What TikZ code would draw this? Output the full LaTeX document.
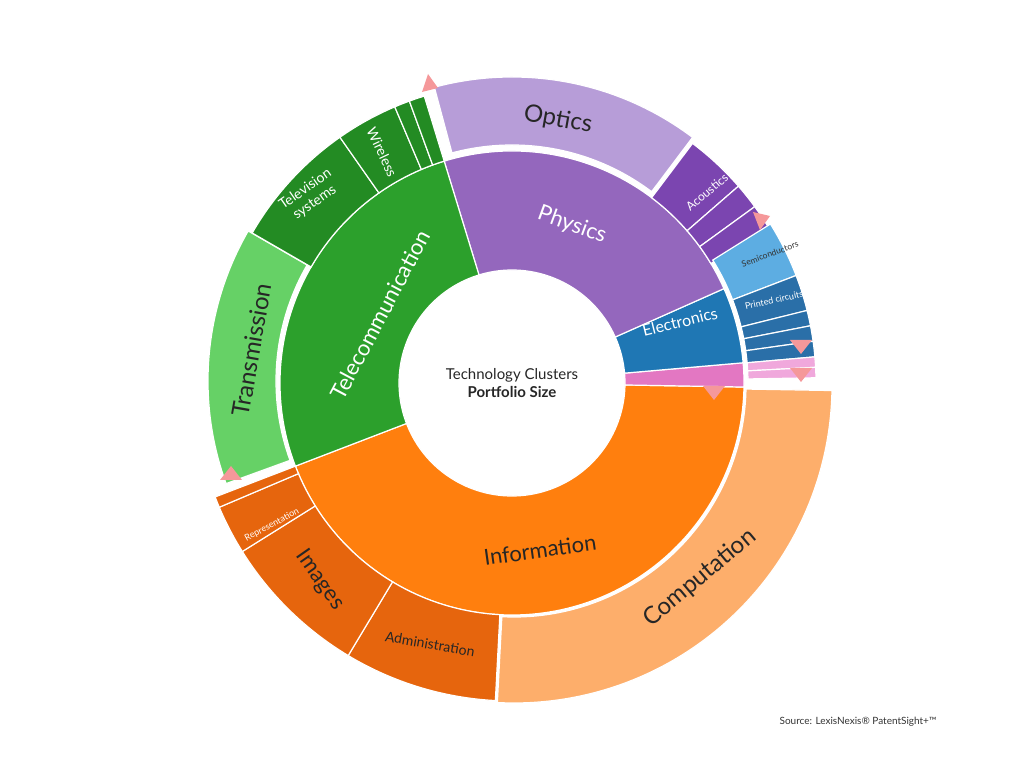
\documentclass[tikz,border=0pt]{standalone}
\usepackage{fontspec}
\setmainfont{Lato}
\begin{document}
\begin{tikzpicture}[x=1pt,y=1pt,
  seg/.style={draw=white,line width=1.2pt},
  lbl/.style={font=\fontsize{20}{22}\selectfont,text=black!85},
  wl/.style={font=\fontsize{15}{17}\selectfont,text=white},
  sl/.style={font=\fontsize{10}{11}\selectfont,text=white},
  mk/.style={fill=mkc,draw=none}]
\definecolor{info}{HTML}{FF7F0E}\definecolor{comp}{HTML}{FDAE6B}\definecolor{iodk}{HTML}{E6650D}
\definecolor{tele}{HTML}{2CA02C}\definecolor{trans}{HTML}{66D166}\definecolor{tgdk}{HTML}{238B23}
\definecolor{phys}{HTML}{9467BD}\definecolor{opt}{HTML}{B79DD8}\definecolor{acou}{HTML}{7B45B0}
\definecolor{elec}{HTML}{1F77B4}\definecolor{semi}{HTML}{5DADE2}\definecolor{pcb}{HTML}{2A6FA8}
\definecolor{pnk}{HTML}{E377C2}\definecolor{pnkl}{HTML}{F0A8DC}\definecolor{mkc}{HTML}{F5989A}
\useasboundingbox (0,0) rectangle (1024,768);
\newcommand{\sg}[5]{\fill[#5,seg] (#3:#1) arc[start angle=#3,end angle=#4,radius=#1] -- (#4:#2) arc[start angle=#4,end angle=#3,radius=#2] -- cycle;}
\begin{scope}[shift={(512,385)}]
\sg{113}{232}{-159}{-1}{info}
\sg{113}{232}{-1}{5}{pnk}
\sg{113}{232}{5}{24}{elec}
\sg{113}{232}{24}{107}{phys}
\sg{113}{232}{107}{201}{tele}
\begin{scope}[shift={(2,-2)}]\sg{232}{318}{-93}{-1}{comp}\end{scope}
\sg{232}{318}{-121}{-93}{iodk}
\sg{232}{318}{-148}{-121}{iodk}
\sg{232}{318}{-157}{-148}{iodk}
\sg{232}{318}{-159}{-157}{iodk}
\begin{scope}[shift={(-4,2)}]\sg{232}{300}{150}{200}{trans}\end{scope}
\sg{232}{300}{125}{150}{tgdk}
\sg{232}{300}{113}{125}{tgdk}
\sg{232}{300}{110}{113}{tgdk}
\sg{232}{300}{107}{110}{tgdk}
\begin{scope}[shift={(0,6)}]\sg{232}{300}{53}{105}{opt}\end{scope}
\sg{232}{300}{41}{53}{acou}
\sg{232}{300}{36}{41}{acou}
\sg{232}{300}{31}{36}{acou}
\begin{scope}[shift={(4,0)}]
\sg{232}{300}{21}{32}{semi}
\sg{232}{300}{14}{21}{pcb}
\sg{232}{300}{11}{14}{pcb}
\sg{232}{300}{8}{11}{pcb}
\sg{232}{300}{5}{8}{pcb}
\sg{232}{300}{3}{5}{pnkl}
\sg{232}{300}{1}{3}{pnkl}
\end{scope}
\end{scope}
\fill[mk] (422,676) -- (438,680) -- (428,694) -- cycle;
\fill[mk] (753,556) -- (770,552) -- (760,538) -- cycle;
\fill[mk] (790,428) -- (812,428) -- (801,414) -- cycle;
\fill[mk] (790,400) -- (812,400) -- (801,386) -- cycle;
\fill[mk] (703,382) -- (725,382) -- (714,368) -- cycle;
\fill[mk] (220,288) -- (242,288) -- (231,302) -- cycle;
\node[lbl,font=\fontsize{22}{24}\selectfont,text=white,rotate=-20] (phys) at (572,543) {Physics};
\node[lbl,font=\fontsize{22}{24}\selectfont,text=white,rotate=62] (tele) at (380,453) {Telecommunication};
\node[lbl,font=\fontsize{22}{24}\selectfont,rotate=8] (info) at (540,218) {Information};
\node[wl,font=\fontsize{16}{18}\selectfont,rotate=14] (elec) at (680,446) {Electronics};
\node[lbl,font=\fontsize{24}{26}\selectfont,rotate=-10] (opt) at (558,648) {Optics};
\node[sl,font=\fontsize{12}{13}\selectfont,rotate=40] (acou) at (707,576) {Acoustics};
\node[sl,font=\fontsize{8.5}{10}\selectfont,text=black!80,rotate=20] (semi) at (770,514) {Semiconductors};
\node[sl,font=\fontsize{9}{10}\selectfont,rotate=12] (pcb) at (774,468) {Printed circuits};
\node[lbl,font=\fontsize{24}{26}\selectfont,rotate=80] (trans) at (252,418) {Transmission};
\node[wl,font=\fontsize{14}{16}\selectfont,align=center,rotate=35] (tv) at (310,572) {Television\\systems};
\node[wl,font=\fontsize{14}{16}\selectfont,rotate=-65] (wl) at (382,616) {Wireless};
\node[sl,font=\fontsize{9}{10}\selectfont,rotate=28] (rep) at (272,243) {Representation};
\node[lbl,font=\fontsize{22}{24}\selectfont,rotate=-55] (img) at (320,188) {Images};
\node[lbl,font=\fontsize{14}{16}\selectfont,rotate=-10] (adm) at (430,124) {Administration};
\node[lbl,font=\fontsize{24}{26}\selectfont,rotate=40] (comp) at (700,190) {Computation};
\node[align=center,font=\fontsize{15}{18}\selectfont,text=black!85] (c) at (512,385) {Technology Clusters\\\textbf{Portfolio Size}};
\node[anchor=east,font=\fontsize{10}{12}\selectfont,text=black!80] (src) at (940,46) {Source: LexisNexis® PatentSight+™};
\end{tikzpicture}
\end{document}
